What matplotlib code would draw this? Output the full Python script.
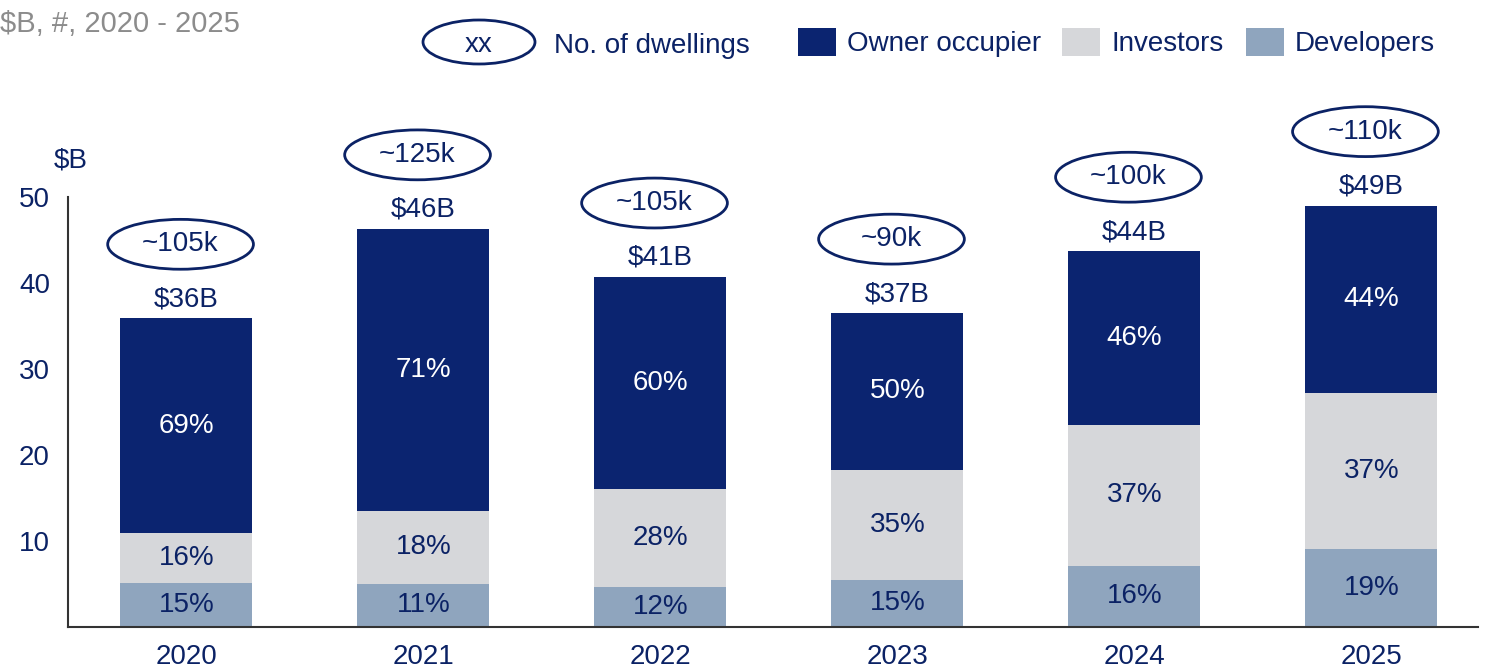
import matplotlib
matplotlib.use("Agg")
import matplotlib.pyplot as plt
from matplotlib.patches import Ellipse, Rectangle

plt.rcParams['font.family'] = ['Liberation Sans', 'DejaVu Sans']

years = ["2020", "2021", "2022", "2023", "2024", "2025"]
developers = [5.1, 5.0, 4.65, 5.5, 7.1, 9.1]
investors = [5.8, 8.5, 11.35, 12.8, 16.4, 18.1]
owner = [25.0, 32.8, 24.7, 18.2, 20.2, 21.8]
owner_pct = ["69%", "71%", "60%", "50%", "46%", "44%"]
investors_pct = ["16%", "18%", "28%", "35%", "37%", "37%"]
developers_pct = ["15%", "11%", "12%", "15%", "16%", "19%"]
total_labels = ["$36B", "$46B", "$41B", "$37B", "$44B", "$49B"]
dwellings = ["~105k", "~125k", "~105k", "~90k", "~100k", "~110k"]

NAVY = "#0B2470"
GREY = "#D6D7DA"
BLUE = "#8FA5BE"
TXT = "#0B2265"

fig = plt.figure(figsize=(14.98, 6.71), dpi=100)
ax = fig.add_axes([68/1498, 44/671, (1478-68)/1498, 430/671])

x = list(range(len(years)))
w = 0.557
ax.bar(x, developers, w, color=BLUE, zorder=2)
bot2 = [d for d in developers]
ax.bar(x, investors, w, bottom=bot2, color=GREY, zorder=2)
bot3 = [d + i for d, i in zip(developers, investors)]
ax.bar(x, owner, w, bottom=bot3, color=NAVY, zorder=2)

fs = 20
for i in x:
    d, iv, o = developers[i], investors[i], owner[i]
    tot = d + iv + o
    ax.text(i, d / 2, developers_pct[i], ha='center', va='center', color=TXT, fontsize=fs)
    ax.text(i, d + iv / 2, investors_pct[i], ha='center', va='center', color=TXT, fontsize=fs)
    ax.text(i, d + iv + o / 2, owner_pct[i], ha='center', va='center', color='white', fontsize=fs)
    ax.text(i, tot + 1.4, total_labels[i], ha='center', va='baseline', color=TXT, fontsize=fs)
    e = Ellipse((i - 0.025, tot + 8.6), 0.615, 5.8, fill=False, edgecolor=TXT, lw=2, clip_on=False)
    ax.add_patch(e)
    ax.text(i - 0.025, tot + 8.6, dwellings[i], ha='center', va='center', color=TXT, fontsize=fs, clip_on=False)

ax.set_xlim(-0.5, 5.45)
ax.set_ylim(0, 50)
ax.set_xticks(x)
ax.set_xticklabels(years)
ax.set_yticks([10, 20, 30, 40, 50])
ax.tick_params(axis='both', length=0, labelsize=fs, colors=TXT)
ax.tick_params(axis='y', pad=13)
ax.tick_params(axis='x', pad=12)
for s in ['top', 'right']:
    ax.spines[s].set_visible(False)
for s in ['left', 'bottom']:
    ax.spines[s].set_color('#333333')
    ax.spines[s].set_linewidth(1.5)

ax.text(-0.49, 54.2, "$B", ha='center', va='center', color=TXT, fontsize=fs, clip_on=False)

# header
fig.text(0, 1 - 24/671, "$B, #, 2020 - 2025", ha='left', va='center', color='#8C8C8C', fontsize=21)
fig.patches.append(Ellipse((479/1498, 1 - 42/671), 112/1498, 44/671, fill=False,
                           edgecolor=TXT, lw=2, transform=fig.transFigure))
fig.text(479/1498, 1 - 45/671, "xx", ha='center', va='center', color=TXT, fontsize=fs)
fig.text(554/1498, 1 - 46/671, "No. of dwellings", ha='left', va='center', color=TXT, fontsize=fs)

legend_items = [(798, NAVY, "Owner occupier", 847), (1062, GREY, "Investors", 1112), (1246, BLUE, "Developers", 1295)]
for sx, col, lab, tx in legend_items:
    fig.patches.append(Rectangle((sx/1498, 1 - 56/671), 38/1498, 28/671, facecolor=col,
                                 edgecolor='none', transform=fig.transFigure))
    fig.text(tx/1498, 1 - 44/671, lab, ha='left', va='center', color=TXT, fontsize=fs)

fig.savefig("out.png", dpi=100, facecolor='white')
